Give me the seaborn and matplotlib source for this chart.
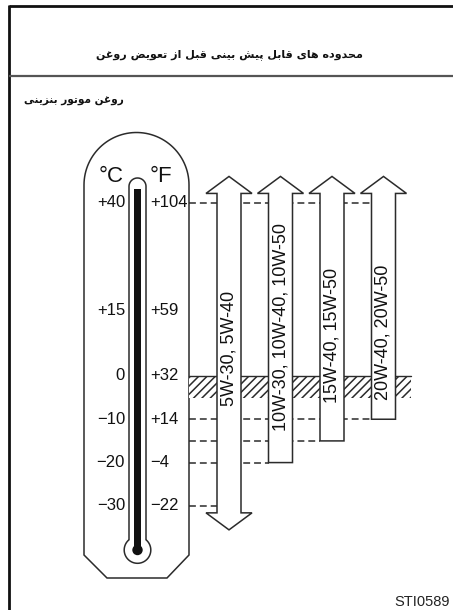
import numpy as np
import pandas as pd
import matplotlib
matplotlib.use("Agg")
import matplotlib.pyplot as plt
import matplotlib.transforms as mtransforms
from matplotlib.patches import Polygon, Rectangle, Circle
import seaborn as sns

# ---------------- data ----------------
grades = ["5W-30, 5W-40", "10W-30, 10W-40, 10W-50", "15W-40, 15W-50", "20W-40, 20W-50"]
min_temp_c = [-30, -20, -15, -10]
max_temp_c = [40, 40, 40, 40]
open_below = [True, False, False, False]
scale_c = [40, 15, 0, -10, -20, -30]
scale_f = [104, 59, 32, 14, -4, -22]
hatch_band_c = [0, -5]
title = "محدوده های قابل پیش بینی قبل از تعویض روغن"
subtitle = "روغن موتور بنزینی"
code = "STI0589"

# label placement along each arrow (°C)
label_mid = [6.3, 11.3, 9.4, 10.0]

# ---------------- Arabic shaping (presentation forms) ----------------
FORMS = {
    'ا': ('\uFE8D', '\uFE8E', None, None),
    'ب': ('\uFE8F', '\uFE90', '\uFE91', '\uFE92'),
    'پ': ('\uFB56', '\uFB57', '\uFB58', '\uFB59'),
    'ت': ('\uFE95', '\uFE96', '\uFE97', '\uFE98'),
    'ح': ('\uFEA1', '\uFEA2', '\uFEA3', '\uFEA4'),
    'د': ('\uFEA9', '\uFEAA', None, None),
    'ر': ('\uFEAD', '\uFEAE', None, None),
    'ز': ('\uFEAF', '\uFEB0', None, None),
    'ش': ('\uFEB5', '\uFEB6', '\uFEB7', '\uFEB8'),
    'ض': ('\uFEBD', '\uFEBE', '\uFEBF', '\uFEC0'),
    'ع': ('\uFEC9', '\uFECA', '\uFECB', '\uFECC'),
    'غ': ('\uFECD', '\uFECE', '\uFECF', '\uFED0'),
    'ق': ('\uFED5', '\uFED6', '\uFED7', '\uFED8'),
    'ل': ('\uFEDD', '\uFEDE', '\uFEDF', '\uFEE0'),
    'م': ('\uFEE1', '\uFEE2', '\uFEE3', '\uFEE4'),
    'ن': ('\uFEE5', '\uFEE6', '\uFEE7', '\uFEE8'),
    'ه': ('\uFEE9', '\uFEEA', '\uFEEB', '\uFEEC'),
    'و': ('\uFEED', '\uFEEE', None, None),
    'ی': ('\uFBFC', '\uFBFD', '\uFBFE', '\uFBFF'),
}
RIGHT_ONLY = set('ادذرزو')


def shape(s):
    out = []
    for k, c in enumerate(s):
        if c not in FORMS:
            out.append(c)
            continue
        prev = s[k - 1] if k > 0 else None
        nxt = s[k + 1] if k + 1 < len(s) else None
        jp = prev in FORMS and prev not in RIGHT_ONLY
        jn = nxt in FORMS and c not in RIGHT_ONLY
        iso, fin, ini, med = FORMS[c]
        if jp and jn:
            g = med
        elif jp:
            g = fin
        elif jn:
            g = ini
        else:
            g = iso
        out.append(g)
    return ''.join(reversed(out))


def fmt(v):
    if v > 0:
        return f"+{v}"
    if v < 0:
        return f"\u2212{abs(v)}"
    return "0"


# ---------------- figure ----------------
sns.set_style("white")
plt.rcParams['font.family'] = ['Liberation Sans', 'DejaVu Sans']
plt.rcParams['hatch.linewidth'] = 1.1

W, H = 453, 610
fig = plt.figure(figsize=(W / 100, H / 100), dpi=100)

# background / decoration axes in pixel units
bg = fig.add_axes([0, 0, 1, 1])
bg.set_xlim(0, W)
bg.set_ylim(H, 0)
bg.axis('off')

# data axes: x = grade index, y = temperature (°C)
X0, XS = 229.0, 51.5
Y0, YS = 375.9, 4.334
ax = fig.add_axes([0, 0, 1, 1], zorder=2)
ax.set_facecolor('none')
ax.set_xlim((0 - X0) / XS, (W - X0) / XS)
ax.set_ylim((Y0 - H) / YS, Y0 / YS)
ax.axis('off')


def xd(px):
    return (px - X0) / XS


ink = '#2b2b2b'

# frame + header
bg.plot([8.5, W], [6, 6], color='#111', lw=2.0, solid_capstyle='butt')
bg.plot([9, 9], [5, H], color='#111', lw=2.0, solid_capstyle='butt')
bg.plot([9, W], [75.5, 75.5], color='#555', lw=1.6, solid_capstyle='butt')
bg.text(229, 55, shape(title), ha='center', va='center', fontsize=8.0,
        family=['DejaVu Sans'], weight='bold', color='#111')
bg.text(24, 101, shape(subtitle), ha='left', va='center', fontsize=7.6,
        family=['DejaVu Sans'], weight='bold', color='#111')
bg.text(450, 602, code, ha='right', va='center', fontsize=10.5,
        family=['Liberation Sans Narrow', 'Liberation Sans'], color='#222')

# thermometer body
cx = 136.5
t = np.linspace(np.pi, 2 * np.pi, 60)
dome = np.column_stack([cx + 52.5 * np.cos(t), 185 + 52.5 * np.sin(t)])
body = np.vstack([[[84, 555]], dome, [[189, 555], [167, 578], [107, 578]]])
bg.add_patch(Polygon(body, closed=True, facecolor='white', edgecolor=ink, lw=1.1, zorder=2))

# tube
bx, by, br = 137.5, 550.0, 13.3
tw = 8.5
ang = np.arcsin(np.sqrt(br ** 2 - tw ** 2) / br)
t_top = np.linspace(np.pi, 2 * np.pi, 30)
cap = np.column_stack([bx + tw * np.cos(t_top), 186.5 + tw * np.sin(t_top)])
t_b = np.linspace(-ang, np.pi + ang, 80)
bulb = np.column_stack([bx + br * np.cos(t_b), by + br * np.sin(t_b)])
tube = np.vstack([cap, bulb])
bg.add_patch(Polygon(tube, closed=True, facecolor='white', edgecolor=ink, lw=1.1, zorder=3))
bg.add_patch(Rectangle((134, 189), 7, by - 189, facecolor='#111', edgecolor='none', zorder=4))
bg.add_patch(Circle((bx, by), 5.2, facecolor='#111', edgecolor='none', zorder=4))
bg.text(111, 177, "°C", ha='center', va='center', fontsize=16, color='#111')
bg.text(150, 177, "°F", ha='left', va='center', fontsize=16, color='#111')

# scale labels: x in pixels, y in °C
blend = mtransforms.blended_transform_factory(bg.transData, ax.transData)
for c, f in zip(scale_c, scale_f):
    ax.text(125, c, fmt(c), transform=blend, ha='right', va='center', fontsize=12, color='#111')
    ax.text(150, c, fmt(f), transform=blend, ha='left', va='center', fontsize=12, color='#111')

# hatched band
therm_edge = xd(189)
n = len(grades)
hw, hh = 12 / XS, 23 / XS
head = 17 / YS
ax.add_patch(Rectangle((therm_edge, hatch_band_c[1]), (n - 1 + 0.53) - therm_edge,
                       hatch_band_c[0] - hatch_band_c[1], facecolor='white',
                       edgecolor=ink, hatch='////', lw=0, zorder=1))
ax.plot([therm_edge, n - 1 + 0.53], [hatch_band_c[0]] * 2, color=ink, lw=1.0, zorder=1)

# dashed reference lines
dash = (0, (4.5, 2.6))
sns.lineplot(x=[therm_edge, (n - 1) - hw], y=[max_temp_c[-1]] * 2, ax=ax, color=ink,
             lw=1.1, linestyle=dash, zorder=1)
for i, lo in enumerate(min_temp_c):
    sns.lineplot(x=[therm_edge, i - hw], y=[lo, lo], ax=ax, color=ink, lw=1.1,
                 linestyle=dash, zorder=1)

# arrows
for i, (g, lo, hi, ob) in enumerate(zip(grades, min_temp_c, max_temp_c, open_below)):
    base_top = hi + 2.1
    pts = [(i - hw, base_top), (i - hh, base_top), (i, base_top + head),
           (i + hh, base_top), (i + hw, base_top)]
    if ob:
        base_bot = lo - 1.6
        pts += [(i + hw, base_bot), (i + hh, base_bot), (i, base_bot - head),
                (i - hh, base_bot), (i - hw, base_bot)]
    else:
        pts += [(i + hw, lo), (i - hw, lo)]
    ax.add_patch(Polygon(pts, closed=True, facecolor='white', edgecolor=ink, lw=1.1, zorder=3))
    ax.text(i, label_mid[i], g, rotation=90, ha='center', va='center', fontsize=13,
            color='#111', zorder=4)

fig.savefig("out.png", dpi=100)
